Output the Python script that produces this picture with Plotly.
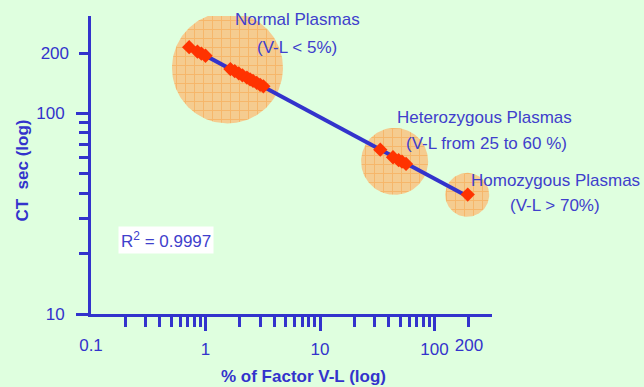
import numpy as np
import plotly.graph_objects as go

# ---------------- data ----------------
normal_x = [0.72, 0.85, 0.92, 1.0, 1.65, 1.8, 1.95, 2.1, 2.3, 2.45, 2.6, 2.8, 3.0, 3.2]
normal_ct = [214, 203.5, 199, 194, 166.5, 162.5, 158.5, 155, 151, 148, 145.5, 142, 139, 136.5]
hetero_x = [33.6, 43.4, 48.6, 52.0, 56.4]
hetero_ct = [66, 60.5, 58.5, 57.5, 56]
homo_x = [195]
homo_ct = [39.4]
r_squared = "0.9997"

group_names = ["Normal Plasmas", "Heterozygous Plasmas", "Homozygous Plasmas"]
group_notes = ["(V-L < 5%)", "(V-L from 25 to 60 %)", "(V-L > 70%)"]
circle_cx = [1.556, 44.8, 193]
circle_cy = [168.7, 57.7, 39.3]

x_major = [1, 10, 100]
x_major_text = ["1", "10", "100"]
x_minor = [0.2, 0.3, 0.4, 0.5, 0.6, 0.7, 0.8, 0.9,
           2, 3, 4, 5, 6, 7, 8, 9,
           20, 30, 40, 50, 60, 70, 80, 90, 200]
x_extra = [0.1, 200]
x_extra_text = ["0.1", "200"]
y_major = [10, 100]
y_major_text = ["10", "100"]
y_minor = [20, 30, 40, 50, 60, 70, 80, 90, 200]
y_extra = [200]
y_extra_text = ["200"]

# ---------------- layout constants ----------------
W, H = 644, 387
ML, MR, MT, MB = 91, 152, 16, 73
PW, PH = W - ML - MR, H - MT - MB
XR = [-1, 2.502]
YR = [1, 2.486]
XDEC = PW / (XR[1] - XR[0])
YDEC = PH / (YR[1] - YR[0])
circle_r_px = [55.5, 33.5, 22]

BLUE = "#3333CC"
TXT = "#4040CC"
BG = "#DFFFDF"
FONT = "Liberation Sans, Arial, sans-serif"

fig = go.Figure()

# highlight circles
t = np.linspace(0, 2 * np.pi, 161)
for cx, cy, r in zip(circle_cx, circle_cy, circle_r_px):
    lx = np.log10(cx) + r / XDEC * np.cos(t)
    ly = np.log10(cy) + r / YDEC * np.sin(t)
    fig.add_trace(go.Scatter(
        x=10 ** lx, y=10 ** ly, mode="lines", fill="toself",
        fillcolor="#F5CC90", line=dict(width=0, color="#F5CC90"),
        fillpattern=dict(shape="+", fgcolor="#F7A040", bgcolor="#F5CC90",
                         size=9, solidity=0.2),
        hoverinfo="skip", showlegend=False))

# regression line (log-log fit)
all_x = np.array(normal_x + hetero_x + homo_x, dtype=float)
all_y = np.array(normal_ct + hetero_ct + homo_ct, dtype=float)
coef = np.polyfit(np.log10(all_x), np.log10(all_y), 1)
fx = np.array([all_x.min(), all_x.max()])
fy = 10 ** np.polyval(coef, np.log10(fx))
fig.add_trace(go.Scatter(x=fx, y=fy, mode="lines",
                         line=dict(color=BLUE, width=4), showlegend=False))

# data points
fig.add_trace(go.Scatter(x=all_x, y=all_y, mode="markers",
                         marker=dict(symbol="diamond", size=11, color="#FF3300",
                                     line=dict(width=0)),
                         showlegend=False))

# dummy trace for overlay axes
fig.add_trace(go.Scatter(x=[None], y=[None], xaxis="x2", yaxis="y2",
                         showlegend=False, hoverinfo="skip"))

tickfont = dict(family=FONT, size=17, color=BLUE)

fig.update_layout(
    width=W, height=H,
    margin=dict(l=ML, r=MR, t=MT, b=MB),
    paper_bgcolor=BG, plot_bgcolor=BG,
    showlegend=False,
    xaxis=dict(type="log", range=XR, showgrid=False, zeroline=False,
               showline=True, linecolor=BLUE, linewidth=3,
               tickmode="array", tickvals=x_major, ticktext=x_major_text,
               ticks="outside", ticklen=14, tickwidth=3, tickcolor=BLUE,
               ticklabelstandoff=4, tickfont=tickfont,
               minor=dict(tickmode="array", tickvals=x_minor, ticks="outside",
                          ticklen=10, tickwidth=3, tickcolor=BLUE, showgrid=False)),
    xaxis2=dict(type="log", range=XR, overlaying="x", anchor="y", side="bottom",
                showgrid=False, zeroline=False, showline=False,
                tickmode="array", tickvals=x_extra, ticktext=x_extra_text,
                ticks="", ticklabelstandoff=19, tickfont=tickfont),
    yaxis=dict(type="log", range=YR, showgrid=False, zeroline=False,
               showline=True, linecolor=BLUE, linewidth=3,
               tickmode="array", tickvals=y_major, ticktext=y_major_text,
               ticks="outside", ticklen=12, tickwidth=3, tickcolor=BLUE,
               ticklabelstandoff=8, tickfont=tickfont,
               minor=dict(tickmode="array", tickvals=y_minor, ticks="outside",
                          ticklen=9, tickwidth=3, tickcolor=BLUE, showgrid=False)),
    yaxis2=dict(type="log", range=YR, overlaying="y", anchor="x", side="left",
                showgrid=False, zeroline=False, showline=False,
                tickmode="array", tickvals=y_extra, ticktext=y_extra_text,
                ticks="", ticklabelstandoff=21, tickfont=tickfont),
)


def px2paper(px, py):
    return (px - ML) / PW, (H - MB - py) / PH


ann_font = dict(family=FONT, size=17, color=TXT)
label_pos = [((297, 20), (297, 47)), ((484, 117), (486, 143)), ((555, 180), (555, 205))]
for name, note, (p1, p2) in zip(group_names, group_notes, label_pos):
    for txt, (px, py) in ((name, p1), (note, p2)):
        ax_, ay_ = px2paper(px, py)
        fig.add_annotation(x=ax_, y=ay_, xref="paper", yref="paper", text=txt,
                           showarrow=False, font=ann_font,
                           xanchor="center", yanchor="middle")

ax_, ay_ = px2paper(165.5, 239.5)
fig.add_annotation(x=ax_, y=ay_, xref="paper", yref="paper",
                   text="R<sup>2</sup> = " + r_squared, showarrow=False,
                   font=ann_font, bgcolor="white", borderpad=2,
                   xanchor="center", yanchor="middle")

ax_, ay_ = px2paper(303, 376)
fig.add_annotation(x=ax_, y=ay_, xref="paper", yref="paper",
                   text="<b>% of Factor V-L (log)</b>", showarrow=False,
                   font=dict(family=FONT, size=17, color=BLUE),
                   xanchor="center", yanchor="middle")
ax_, ay_ = px2paper(22, 170.5)
fig.add_annotation(x=ax_, y=ay_, xref="paper", yref="paper",
                   text="<b>CT\u00a0 sec (log)</b>", showarrow=False, textangle=-90,
                   font=dict(family=FONT, size=17, color=BLUE),
                   xanchor="center", yanchor="middle")

fig.write_html("out.html", config={"displayModeBar": False},
               post_script="document.body.style.margin='0';")
